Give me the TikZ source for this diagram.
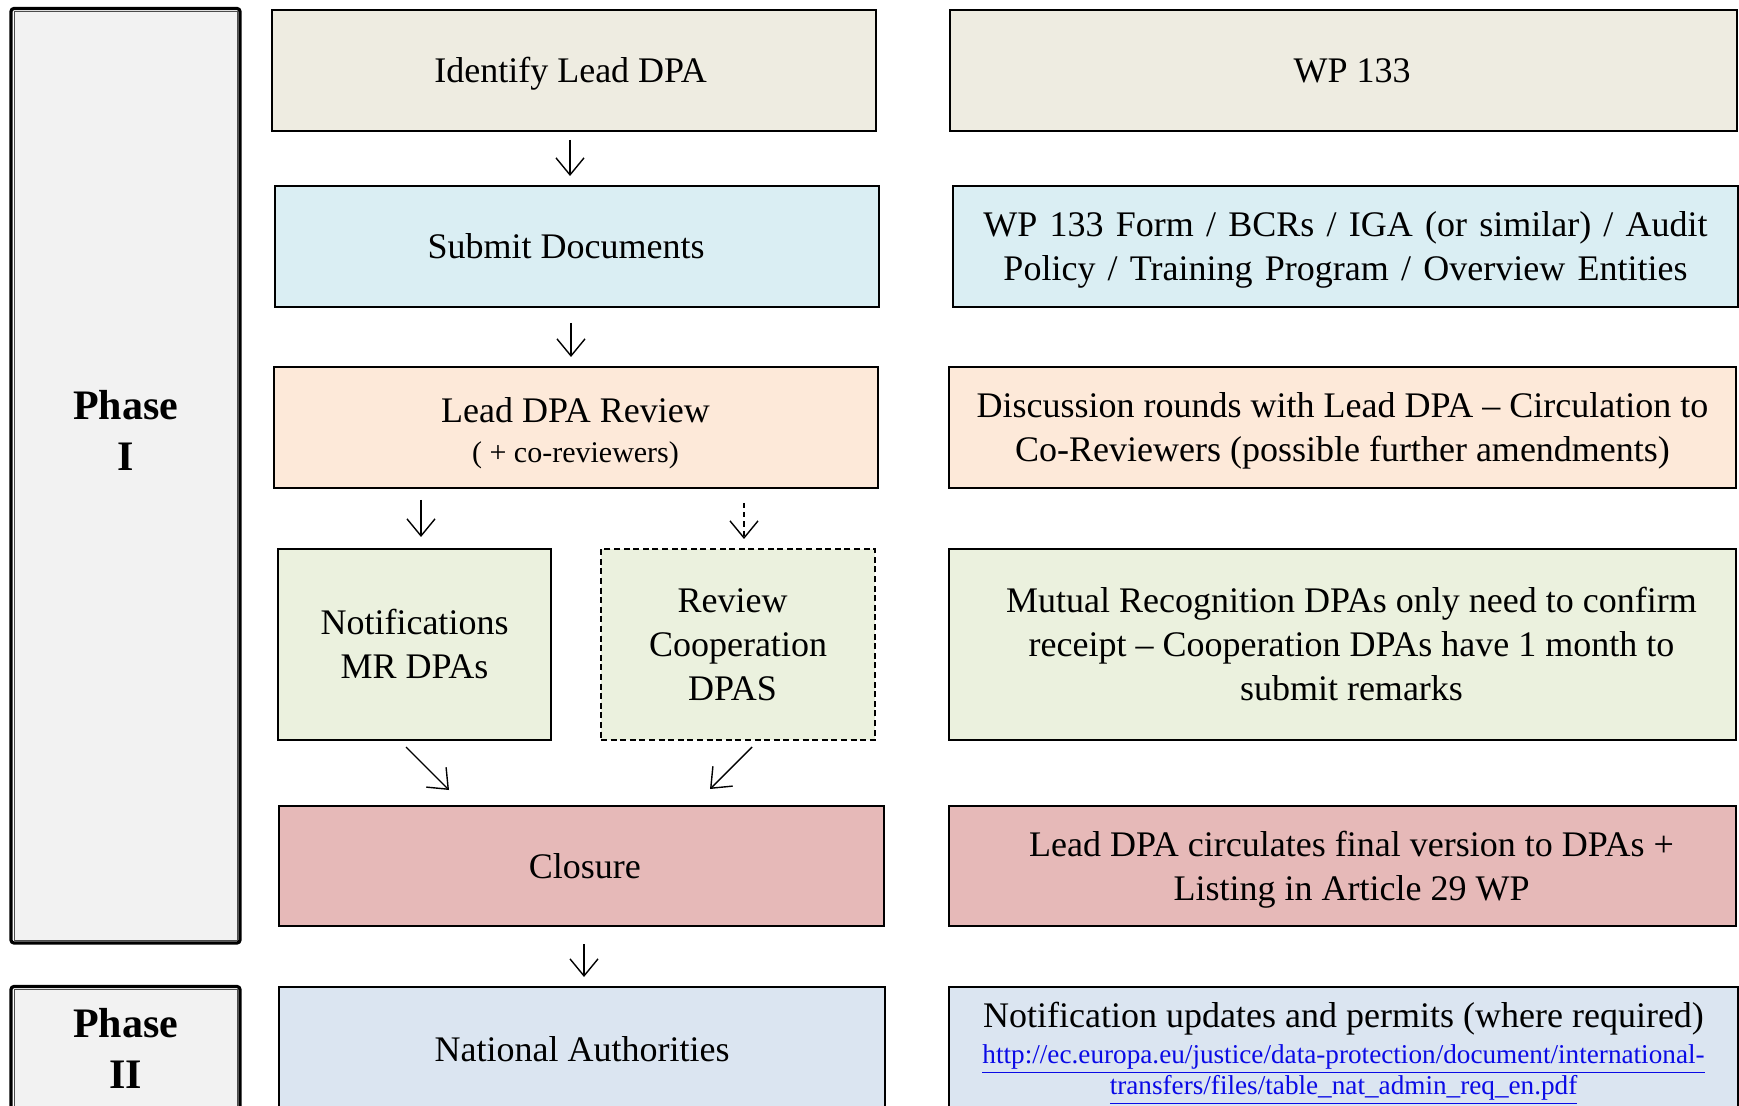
\documentclass[tikz,border=0pt]{standalone}
\usepackage{fontspec}
\setmainfont{Liberation Serif}
\newfontfamily\widespace[WordSpace=1.36]{Liberation Serif}
\usetikzlibrary{arrows.meta,calc}

\definecolor{cBeige}{HTML}{EEECE1}
\definecolor{cBlue}{HTML}{DAEEF3}
\definecolor{cPeach}{HTML}{FDE9D9}
\definecolor{cGreen}{HTML}{EBF1DE}
\definecolor{cRose}{HTML}{E6B9B8}
\definecolor{cNat}{HTML}{DBE5F1}
\definecolor{cPhase}{HTML}{F2F2F2}
\definecolor{cLink}{HTML}{0A0AE6}

\tikzset{
  box/.style={draw=black, line width=1pt, inner sep=0pt, align=center,
    font=\fontsize{18}{22}\selectfont},
  % fixed text box height and depth, so captions sit centred on the cap height
  one/.style={box, text height=16pt, text depth=4pt},
  two/.style={box, text height=38pt, text depth=4pt},
  three/.style={box, text height=60pt, text depth=4pt},
  wide/.style={minimum width=302pt, minimum height=60.5pt},
  side/.style={minimum width=393.5pt, minimum height=60.5pt},
  phasebox/.style={draw=black, line width=1.6pt, fill=white, inner sep=0pt,
    rounded corners=1.5pt, minimum width=114.5pt},
  phaseinner/.style={draw=black!70, line width=0.5pt, fill=cPhase},
  phaselabel/.style={align=center, font=\fontsize{21}{25.5}\selectfont\bfseries},
  arr/.style={line width=0.7pt, -{Straight Barb[length=8.5pt,width=14pt]}},
}

\begin{document}
\begin{tikzpicture}[x=0.5pt, y=-0.5pt]
\useasboundingbox (0,0) rectangle (1739,1106);
\clip (0,0) rectangle (1739,1106);
\fill[white] (0,0) rectangle (1739,1106);

% phase frames with double border
\node[phasebox, minimum height=467.25pt] (ph1) at (125.5,475.75) {};
\draw[phaseinner] ([shift={(2.3pt,-2.3pt)}]ph1.north west) rectangle ([shift={(-2.3pt,2.3pt)}]ph1.south east);
\node[phaselabel] (ph1t) at (125.5,430) {Phase\\I};

\node[phasebox, minimum height=65pt] (ph2) at (125.5,1051.5) {};
\draw[phaseinner] ([shift={(2.3pt,-2.3pt)}]ph2.north west) rectangle ([shift={(-2.3pt,2.3pt)}]ph2.south east);
\node[phaselabel] (ph2t) at (125.5,1048) {Phase\\II};

% process steps
\node[one, wide, fill=cBeige] (idl) at (574,70.5) {Identify Lead DPA\hspace*{3.4pt}};
\node[one, wide, fill=cBlue] (sub) at (577,246.5) {Submit Documents\hspace*{11pt}};
\node[box, wide, fill=cPeach] (rev) at (575.5,427.5)
  {\rule{0pt}{17.8pt}Lead DPA Review\\[-2pt]{\fontsize{15}{18}\selectfont ( + co-reviewers)}};
\node[two, fill=cGreen, minimum width=136.5pt, minimum height=95.5pt] (notif) at (414.5,644.5)
  {Notifications\\MR DPAs};
\node[three, dashed, dash pattern=on 3pt off 1.8pt, fill=cGreen, minimum width=137pt, minimum height=95.5pt] (coop) at (738,644.5)
  {Review\hspace*{5.5pt}\\Cooperation\hspace*{5.5pt}\\DPAS\hspace*{5.5pt}};
\node[one, wide, fill=cRose, minimum width=302.5pt, minimum height=60pt] (clo) at (581.5,866) {\hspace*{3.4pt}Closure};
\node[one, wide, fill=cNat, minimum width=303pt, minimum height=62pt] (nat) at (582,1049) {National Authorities};

% descriptions
\node[one, side, fill=cBeige] (d1) at (1343,70.5) {\hspace*{9pt}WP 133};
\node[two, side, fill=cBlue, minimum width=392.5pt,
      font={\widespace\fontsize{18}{22}\selectfont}] (d2) at (1345.5,246.5)
  {WP 133 Form / BCRs / IGA (or similar) / Audit\\Policy / Training Program / Overview Entities};
\node[two, side, fill=cPeach] (d3) at (1342.5,427.5)
  {Discussion rounds with Lead DPA – Circulation to\\Co-Reviewers (possible further amendments)};
\node[three, side, fill=cGreen, minimum height=95.5pt] (d4) at (1342.5,644.5)
  {\hspace*{9pt}Mutual Recognition DPAs only need to confirm\\\hspace*{9pt}receipt – Cooperation DPAs have 1 month to\\\hspace*{9pt}submit remarks};
\node[two, side, fill=cRose, minimum height=60pt] (d5) at (1342.5,866)
  {\hspace*{9pt}Lead DPA circulates final version to DPAs +\\\hspace*{9pt}Listing in Article 29 WP};
\node[box, fill=cNat, minimum width=394.5pt, minimum height=62pt] (d6) at (1343.5,1049)
  {\rule{0pt}{17.3pt}Notification updates and permits (where required)\\[-4pt]
   {\fontsize{13.6}{15.5}\selectfont\color{cLink}\underline{http://ec.europa.eu/justice/data-protection/document/international-}}\\[-6.5pt]
   {\fontsize{13.6}{15.5}\selectfont\color{cLink}\underline{transfers/files/table\_nat\_admin\_req\_en.pdf}}};

% flow arrows
\draw[arr] ($(idl.south)+(-4,8)$) -- ($(sub.north)+(-7,-9)$);
\draw[arr] ($(sub.south)+(-6,15)$) -- ($(rev.north)+(-4.5,-9)$);
\draw[arr] ($(rev.south -| notif.north)+(6.5,11)$) -- ($(notif.north)+(6.5,-11)$);
\draw[arr, dashed, dash pattern=on 2.6pt off 2pt] ($(rev.south -| coop.north)+(6,14)$) -- ($(coop.north)+(6,-9)$);
\draw[arr] ($(notif.south)+(-8.5,6)$) -- ($(clo.north)+(-132.5,-15)$);
\draw[arr] ($(coop.south)+(14,6)$) -- ($(clo.north)+(128.5,-16)$);
\draw[arr] ($(clo.south)+(2.5,17)$) -- ($(nat.north)+(2,-9)$);
\end{tikzpicture}
\end{document}
